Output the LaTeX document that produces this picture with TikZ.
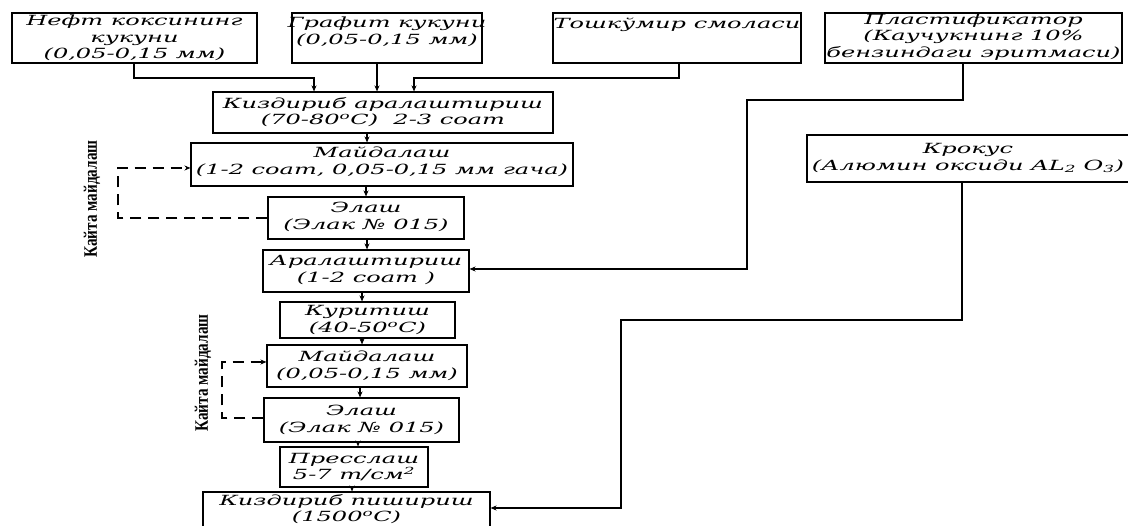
\documentclass[tikz,border=0pt]{standalone}
\usepackage{fontspec}
\newfontfamily\bxfont[FakeStretch=1.72]{DejaVu Serif}
\newfontfamily\lbfont[FakeStretch=0.8]{Liberation Serif}
\usetikzlibrary{arrows.meta}
\tikzset{
  box/.style={draw=black, line width=1.1pt, rectangle, inner sep=0pt},
  txt/.style={align=center, inner sep=0pt, font=\bxfont\itshape\fontsize{14}{16.5}\selectfont},
  sidelbl/.style={rotate=90, inner sep=0pt, font=\lbfont\bfseries\fontsize{19}{21}\selectfont},
  conn/.style={draw=black, line width=1.2pt},
  arr/.style={conn, -{Stealth[length=6pt,width=5pt]}},
  dsh/.style={draw=black, line width=1.2pt, dash pattern=on 11pt off 7pt, -{Stealth[length=6pt,width=5pt]}}
}
\begin{document}
\begin{tikzpicture}[x=1pt,y=-1pt]
\useasboundingbox (0,0) rectangle (1128,526);
\fill[white] (0,0) rectangle (1128,526);
\clip (0,0) rectangle (1128,526);

% top input boxes
\node[box, minimum width=245pt, minimum height=50pt] (b1) at (134.5,38) {};
\node[txt] (b1t) at (134.5,38) {Нефт коксининг\\кукуни\\(0,05-0,15 мм)};
\node[box, minimum width=190pt, minimum height=50pt] (b2) at (387,38) {};
\node[txt] (b2t) at (387,32) {Графит кукуни\\(0,05-0,15 мм)};
\node[box, minimum width=248pt, minimum height=50pt] (b3) at (677,38) {};
\node[txt] (b3t) at (677,25) {Тошкўмир смоласи};
\node[box, minimum width=297pt, minimum height=50pt] (b4) at (973.5,38) {};
\node[txt] (b4t) at (973.5,37) {Пластификатор\\(Каучукнинг 10\%\\бензиндаги эритмаси)};

% main chain
\node[box, minimum width=340pt, minimum height=41pt] (mix) at (383,112.5) {};
\node[txt] (mixt) at (383,112) {Киздириб аралаштириш\\(70-80\textsuperscript{o}C)\ \ 2-3 соат};
\node[box, minimum width=382pt, minimum height=43pt] (md1) at (382,164.5) {};
\node[txt] (md1t) at (382,162) {Майдалаш\\(1-2 соат, 0,05-0,15 мм гача)};
\node[box, minimum width=196pt, minimum height=42pt] (el1) at (366,218) {};
\node[txt] (el1t) at (366,217) {Элаш\\(Элак № 015)};
\node[box, minimum width=206pt, minimum height=42pt] (ar) at (366,271) {};
\node[txt] (art) at (366,270) {Аралаштириш\\(1-2 соат )};
\node[box, minimum width=175pt, minimum height=36pt] (qr) at (367.5,320) {};
\node[txt] (qrt) at (367.5,320) {Куритиш\\(40-50\textsuperscript{o}C)};
\node[box, minimum width=200pt, minimum height=42pt] (md2) at (367,366) {};
\node[txt] (md2t) at (367,366) {Майдалаш\\(0,05-0,15 мм)};
\node[box, minimum width=195pt, minimum height=44pt] (el2) at (361.5,420) {};
\node[txt] (el2t) at (361.5,420) {Элаш\\(Элак № 015)};
\node[box, minimum width=148pt, minimum height=40pt] (pr) at (354,467) {};
\node[txt] (prt) at (354,467) {Пресслаш\\5-7 т/см\textsuperscript{2}};
\node[box, minimum width=287pt, minimum height=50pt] (kp) at (346.5,517) {};
\node[txt] (kpt) at (346.5,509) {Киздириб пишириш\\(1500\textsuperscript{o}C)};

% Krokus
\node[box, minimum width=330pt, minimum height=47pt] (kr) at (972,158.5) {};
\node[txt] (krt) at (968,158) {Крокус\\(Алюмин оксиди AL\textsubscript{2} O\textsubscript{3})};

% side labels
\node[sidelbl] (lbl1) at (92,199) {Кайта майдалаш};
\node[sidelbl] (lbl2) at (203,373) {Кайта майдалаш};

% bend coordinates
\coordinate (c1a) at (134,78);
\coordinate (c1b) at (314,78);
\coordinate (c3a) at (679,78);
\coordinate (c3b) at (414,78);
\coordinate (c4a) at (963,100);
\coordinate (c4b) at (747,100);
\coordinate (c4c) at (747,269);
\coordinate (ck1) at (962,320);
\coordinate (ck2) at (621,320);
\coordinate (ck3) at (621,508);
\coordinate (dl1a) at (118,218);
\coordinate (dl1b) at (118,168);
\coordinate (dl2a) at (222,418);
\coordinate (dl2b) at (222,362);

% connectors from inputs
\draw[arr] (b1.south -| c1a) -- (c1a) -- (c1b) -- (c1b |- mix.north);
\draw[arr] (b2.south -| 377,0) -- (mix.north -| 377,0);
\draw[arr] (b3.south -| c3a) -- (c3a) -- (c3b) -- (c3b |- mix.north);
\draw[arr] (b4.south -| c4a) -- (c4a) -- (c4b) -- (c4c) -- (c4c -| ar.east);
\draw[arr] (kr.south -| ck1) -- (ck1) -- (ck2) -- (ck3) -- (ck3 -| kp.east);

% main chain arrows
\draw[arr] (mix.south -| 367,0) -- (md1.north -| 367,0);
\draw[arr] (md1.south -| 366,0) -- (el1.north -| 366,0);
\draw[arr] (el1.south -| 367,0) -- (ar.north -| 367,0);
\draw[arr] (ar.south -| 362,0) -- (qr.north -| 362,0);
\draw[arr] (qr.south -| 362,0) -- (md2.north -| 362,0);
\draw[arr] (md2.south -| 360,0) -- (el2.north -| 360,0);
\draw[arr] (el2.south -| 358,0) -- (pr.north -| 358,0);
\draw[arr] (pr.south -| 352,0) -- (kp.north -| 352,0);

% dashed return loops
\draw[dsh] (el1.west |- dl1a) -- (dl1a) -- (dl1b) -- (dl1b -| md1.west);
\draw[dsh] (el2.west |- dl2a) -- (dl2a) -- (dl2b) -- (dl2b -| md2.west);
\end{tikzpicture}
\end{document}
